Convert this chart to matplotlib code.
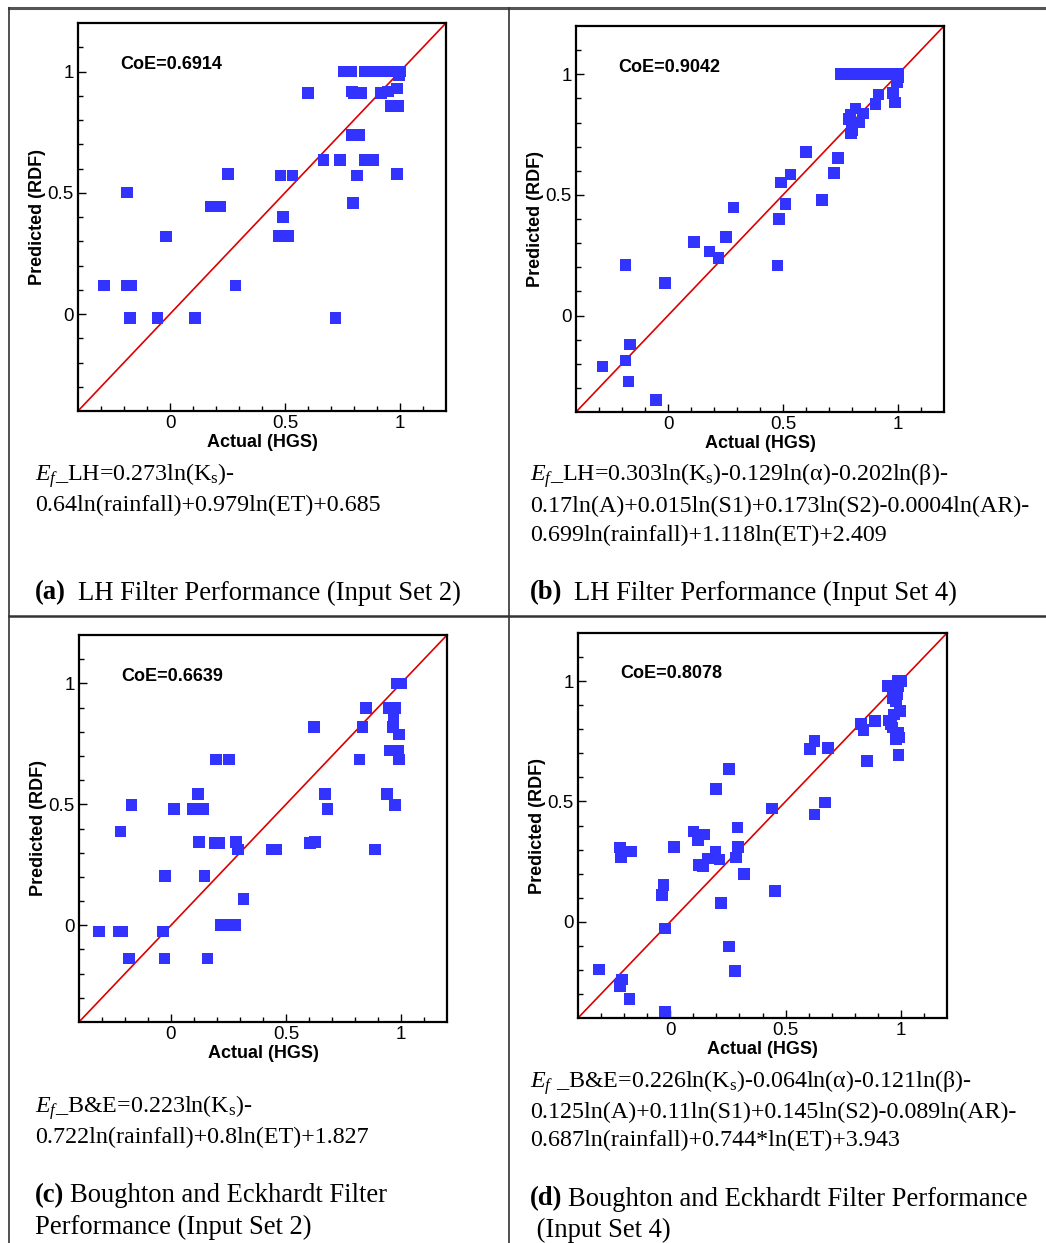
import matplotlib
matplotlib.use("Agg")
import matplotlib.pyplot as plt
from matplotlib.lines import Line2D
import numpy as np

plt.rcParams['mathtext.fontset'] = 'custom'
plt.rcParams['mathtext.rm'] = 'Liberation Serif'
plt.rcParams['mathtext.it'] = 'Liberation Serif:italic'

W, H = 1046, 1243

# ---------------- data ----------------
# (a) LH filter, input set 2
a_actual = [-0.288, -0.188, -0.188, -0.170, -0.174, -0.055, -0.017, 0.110, 0.178, 0.217,
            0.251, 0.284, 0.480, 0.533, 0.490, 0.475, 0.495, 0.513, 0.599, 0.668,
            0.739, 0.719, 0.754, 0.787, 0.849, 0.900, 0.920, 0.940, 0.960, 0.980,
            0.990, 1.000, 0.996, 0.790, 0.800, 0.830, 0.917, 0.949, 0.988, 0.960,
            0.975, 0.990, 0.790, 0.822, 0.845, 0.865, 0.884, 0.813, 0.796, 0.986]
a_pred = [0.118, 0.501, 0.118, 0.118, -0.016, -0.016, 0.320, -0.016, 0.444, 0.444,
          0.577, 0.118, 0.571, 0.571, 0.400, 0.321, 0.321, 0.321, 0.911, 0.635,
          0.635, -0.016, 1.000, 1.000, 1.000, 1.000, 1.000, 1.000, 1.000, 1.000,
          1.000, 1.000, 0.984, 0.918, 0.911, 0.911, 0.911, 0.918, 0.930, 0.859,
          0.859, 0.859, 0.739, 0.739, 0.635, 0.635, 0.635, 0.571, 0.457, 0.577]

# (b) LH filter, input set 4
b_actual = [-0.285, -0.185, -0.165, -0.171, -0.051, -0.185, -0.014, 0.113, 0.181, 0.219,
            0.252, 0.285, 0.476, 0.482, 0.511, 0.491, 0.533, 0.601, 0.670, 0.721,
            0.740, 0.796, 0.800, 0.787, 0.793, 0.816, 0.831, 0.848, 0.902, 0.916,
            0.978, 0.988, 0.996, 0.999, 0.750, 0.765, 0.780, 0.795, 0.810, 0.840,
            0.860, 0.880, 0.900, 0.920, 0.940, 0.960, 0.980, 0.990, 1.000]
b_pred = [-0.212, -0.186, -0.120, -0.273, -0.351, 0.209, 0.135, 0.304, 0.266, 0.238,
          0.326, 0.448, 0.207, 0.401, 0.461, 0.552, 0.585, 0.679, 0.478, 0.590,
          0.654, 0.755, 0.769, 0.814, 0.831, 0.858, 0.800, 0.837, 0.876, 0.916,
          0.923, 0.883, 0.968, 0.989, 1.000, 1.000, 1.000, 1.000, 1.000, 1.000,
          1.000, 1.000, 1.000, 1.000, 1.000, 1.000, 1.000, 1.000, 1.000]

# (c) Boughton & Eckhardt filter, input set 2
c_actual = [-0.313, -0.225, -0.213, -0.183, -0.220, -0.171, -0.036, -0.029, -0.025, 0.012,
            0.097, 0.138, 0.117, 0.122, 0.146, 0.159, 0.196, 0.252, 0.191, 0.210,
            0.217, 0.246, 0.280, 0.283, 0.290, 0.316, 0.438, 0.457, 0.604, 0.625,
            0.622, 0.670, 0.681, 0.820, 0.833, 0.848, 0.887, 0.939, 0.975, 0.946,
            0.975, 0.968, 0.965, 0.990, 0.950, 0.970, 0.986, 0.990, 0.983, 1.000]
c_pred = [-0.026, -0.026, -0.026, -0.137, 0.387, 0.497, -0.026, -0.137, 0.204, 0.480,
          0.480, 0.480, 0.543, 0.344, 0.204, -0.137, 0.685, 0.685, 0.339, 0.339,
          0.000, 0.000, 0.000, 0.344, 0.313, 0.108, 0.313, 0.313, 0.339, 0.344,
          0.820, 0.543, 0.480, 0.685, 0.820, 0.898, 0.313, 0.543, 0.497, 0.898,
          0.898, 0.867, 0.820, 0.789, 0.722, 0.722, 0.722, 0.685, 1.000, 1.000]

# (d) Boughton & Eckhardt filter, input set 4
d_actual = [-0.309, -0.210, -0.217, -0.177, -0.022, -0.217, -0.213, -0.170, -0.036, -0.029,
            -0.022, 0.016, 0.100, 0.120, 0.149, 0.122, 0.142, 0.164, 0.196, 0.213,
            0.199, 0.255, 0.219, 0.254, 0.281, 0.286, 0.293, 0.291, 0.319, 0.441,
            0.455, 0.607, 0.625, 0.626, 0.672, 0.683, 0.826, 0.838, 0.852, 0.888,
            0.942, 0.949, 0.957, 0.964, 0.971, 0.978, 0.986, 0.990, 1.000, 0.986,
            0.997, 0.990, 0.978, 0.993, 0.990, 0.964, 0.975]
d_pred = [-0.198, -0.240, -0.267, -0.320, -0.373, 0.309, 0.270, 0.292, 0.112, 0.154,
          -0.028, 0.311, 0.375, 0.340, 0.362, 0.236, 0.229, 0.263, 0.291, 0.259,
          0.552, 0.635, 0.077, -0.103, -0.205, 0.267, 0.311, 0.391, 0.198, 0.470,
          0.127, 0.718, 0.752, 0.445, 0.496, 0.722, 0.821, 0.798, 0.669, 0.833,
          0.979, 0.837, 0.821, 0.807, 0.862, 0.917, 0.945, 0.979, 1.000, 1.000,
          0.876, 0.786, 0.759, 0.766, 0.694, 0.931, 0.972]

coe_labels = ["CoE=0.6914", "CoE=0.9042", "CoE=0.6639", "CoE=0.8078"]
tick_values = [0, 0.5, 1]
tick_labels = ["0", "0.5", "1"]
x_label = "Actual (HGS)"
y_label = "Predicted (RDF)"

eq_a = [r"$E_f$_LH=0.273ln(K$_\mathrm{s}$)-",
        "0.64ln(rainfall)+0.979ln(ET)+0.685"]
eq_b = [r"$E_f$_LH=0.303ln(K$_\mathrm{s}$)-0.129ln(α)-0.202ln(β)-",
        "0.17ln(A)+0.015ln(S1)+0.173ln(S2)-0.0004ln(AR)-",
        "0.699ln(rainfall)+1.118ln(ET)+2.409"]
eq_c = [r"$E_f$_B&E=0.223ln(K$_\mathrm{s}$)-",
        "0.722ln(rainfall)+0.8ln(ET)+1.827"]
eq_d = [r"$E_f$ _B&E=0.226ln(K$_\mathrm{s}$)-0.064ln(α)-0.121ln(β)-",
        "0.125ln(A)+0.11ln(S1)+0.145ln(S2)-0.089ln(AR)-",
        "0.687ln(rainfall)+0.744*ln(ET)+3.943"]
cap_tags = ["(a)", "(b)", "(c)", "(d)"]
cap_text = [["LH Filter Performance (Input Set 2)"],
            ["LH Filter Performance (Input Set 4)"],
            ["Boughton and Eckhardt Filter", "Performance (Input Set 2)"],
            ["Boughton and Eckhardt Filter Performance", " (Input Set 4)"]]

# ---------------- figure ----------------
fig = plt.figure(figsize=(W / 100, H / 100), dpi=100)
fig.patch.set_facecolor('white')

def px_rect(l, t, r, b):
    return [l / W, 1 - b / H, (r - l) / W, (b - t) / H]

axes_rects = [px_rect(78, 23, 446, 411), px_rect(576, 26, 944, 412),
              px_rect(79, 635, 447, 1022), px_rect(578, 633, 947, 1018)]
datasets = [(a_actual, a_pred), (b_actual, b_pred), (c_actual, c_pred), (d_actual, d_pred)]

sans = 'Liberation Sans'
for rect, (xs, ys), coe in zip(axes_rects, datasets, coe_labels):
    ax = fig.add_axes(rect)
    ax.set_xlim(-0.4, 1.2)
    ax.set_ylim(-0.4, 1.2)
    ax.plot([-0.4, 1.2], [-0.4, 1.2], color='#dd0000', lw=1.2, zorder=2)
    ax.scatter(xs, ys, marker='s', s=70, color='#3333ff', edgecolors='none', zorder=3)
    ax.set_xticks(tick_values)
    ax.set_yticks(tick_values)
    ax.set_xticklabels(tick_labels, fontfamily=sans, fontsize=13.5)
    ax.set_yticklabels(tick_labels, fontfamily=sans, fontsize=13.5)
    ax.set_xticks(np.arange(-0.3, 1.15, 0.1), minor=True)
    ax.set_yticks(np.arange(-0.3, 1.15, 0.1), minor=True)
    ax.tick_params(which='both', direction='in', top=False, right=False, width=1)
    ax.tick_params(which='major', length=6, pad=3)
    ax.tick_params(which='minor', length=3.5)
    for sp in ax.spines.values():
        sp.set_linewidth(1.6)
    ax.set_xlabel(x_label, fontfamily=sans, fontweight='bold', fontsize=13, labelpad=1)
    ax.set_ylabel(y_label, fontfamily=sans, fontweight='bold', fontsize=13, labelpad=1)
    ax.text(-0.215, 1.03, coe, fontfamily=sans, fontweight='bold', fontsize=13,
            ha='left', va='center', zorder=4)

serif = 'Liberation Serif'
FS = 19.2
EQ_FS = 17.3

def ftext(x, y, s, size=FS, **kw):
    return fig.text(x / W, 1 - y / H, s, fontfamily=serif, fontsize=size, va='center', **kw)

def eq_block(x, ys, lines):
    for y, line in zip(ys, lines):
        ftext(x, y, line, size=EQ_FS)

eq_block(35, [476, 505], eq_a)
eq_block(530, [476, 506, 535], eq_b)
eq_block(35, [1108, 1137], eq_c)
eq_block(530, [1083, 1112, 1140], eq_d)

def caption(x, ys, tag, lines, gap):
    t = ftext(x, ys[0], tag, fontweight='bold')
    fig.canvas.draw()
    bb = t.get_window_extent()
    ftext(bb.x1 + gap, ys[0], lines[0])
    for y, line in zip(ys[1:], lines[1:]):
        ftext(x, y, line)

caption(35, [593], cap_tags[0], cap_text[0], 12)
caption(530, [593], cap_tags[1], cap_text[1], 12)
caption(35, [1196, 1227], cap_tags[2], cap_text[2], 6)
caption(530, [1199, 1230], cap_tags[3], cap_text[3], 6)

# table grid lines
def fline(x0, y0, x1, y1, **kw):
    fig.add_artist(Line2D([x0 / W, x1 / W], [1 - y0 / H, 1 - y1 / H],
                          transform=fig.transFigure, **kw))

fline(9, 8, W, 8, color='#555555', lw=2.2)
fline(9, 8, 9, H, color='#333333', lw=1.2)
fline(509, 8, 509, H, color='#333333', lw=1.2)
fline(9, 616, W, 616, color='#333333', lw=1.8)

fig.savefig("out.png", dpi=100, facecolor='white')
